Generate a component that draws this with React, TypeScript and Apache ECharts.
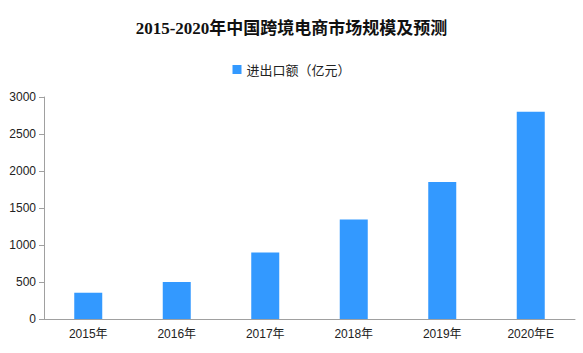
import React, { useEffect, useRef } from "react";
import * as echarts from "echarts";

const categories = ["2015年", "2016年", "2017年", "2018年", "2019年", "2020年E"];
const values = [355, 500, 900, 1345, 1850, 2800];
const seriesName = "进出口额（亿元）";
const titleText = "2015-2020年中国跨境电商市场规模及预测";

export default function App() {
  const ref = useRef<HTMLDivElement>(null);
  useEffect(() => {
    if (!ref.current) return;
    const chart = echarts.init(ref.current, null, { renderer: "svg" });
    chart.setOption({
      animation: false,
      backgroundColor: "#ffffff",
      title: {
        text: titleText,
        left: "center",
        top: 15,
        textStyle: {
          fontFamily: "'Liberation Serif', 'Noto Sans CJK SC', serif",
          fontSize: 17,
          fontWeight: "bold",
          color: "#111",
        },
      },
      legend: {
        top: 58,
        left: "center",
        itemWidth: 9,
        itemHeight: 9,
        icon: "rect",
        itemGap: 6,
        textStyle: { fontSize: 13, color: "#222", fontFamily: "'Noto Sans CJK SC', sans-serif" },
        data: [seriesName],
      },
      grid: { left: 44, right: 8, top: 97, bottom: 34, containLabel: false },
      xAxis: {
        type: "category",
        data: categories,
        axisLine: { lineStyle: { color: "#a0a0a0" } },
        axisTick: { show: false },
        axisLabel: {
          color: "#222",
          fontSize: 12,
          margin: 9,
          fontFamily: "'Liberation Sans', 'Noto Sans CJK SC', sans-serif",
        },
      },
      yAxis: {
        type: "value",
        min: 0,
        max: 3000,
        interval: 500,
        splitLine: { show: false },
        axisLine: { show: true, lineStyle: { color: "#a0a0a0" } },
        axisTick: { show: true, length: 5, lineStyle: { color: "#a0a0a0" } },
        axisLabel: {
          color: "#222",
          fontSize: 12,
          margin: 8,
          fontFamily: "'Liberation Sans', sans-serif",
          formatter: (v: number) => String(v),
        },
      },
      series: [
        {
          name: seriesName,
          type: "bar",
          data: values,
          barWidth: 28,
          itemStyle: { color: "#3399ff" },
        },
      ],
    });
    return () => chart.dispose();
  }, []);
  return <div ref={ref} style={{ width: 583, height: 353, position: "absolute", left: 0, top: 0 }} />;
}
